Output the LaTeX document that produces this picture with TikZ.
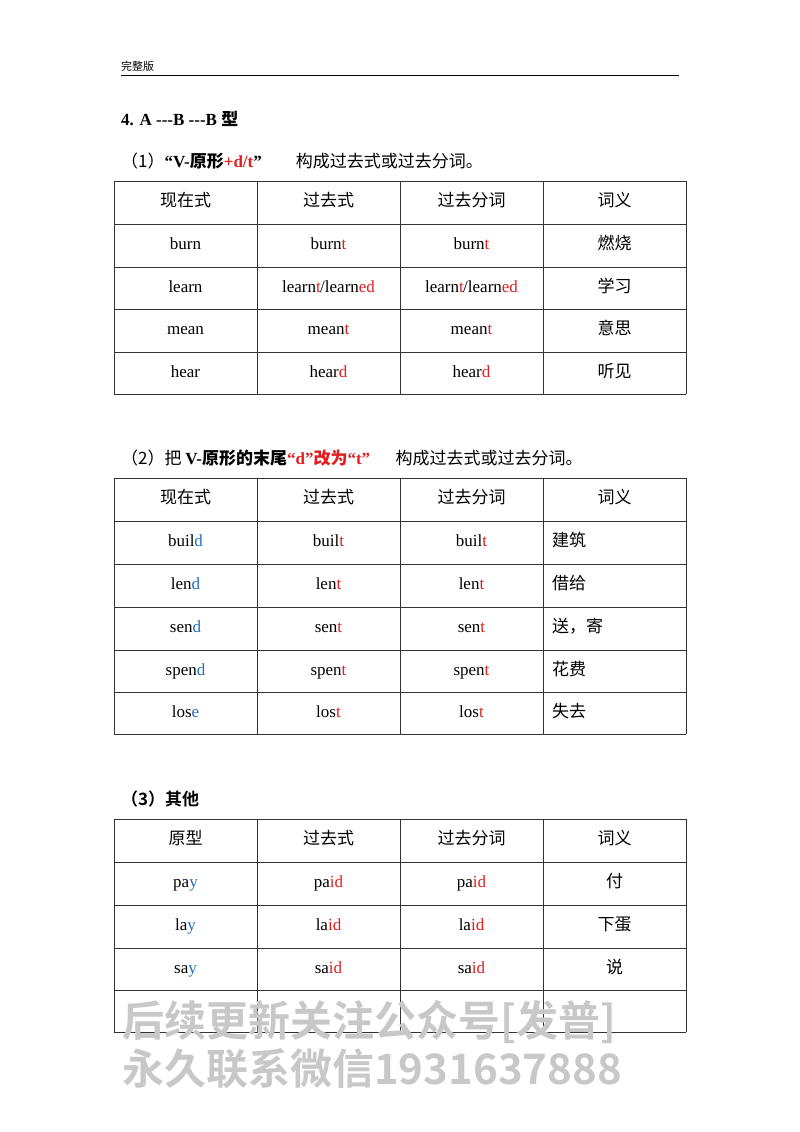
\documentclass[tikz,border=0pt]{standalone}
\usepackage{fontspec}
\setmainfont{Liberation Serif}
\newfontfamily\cjk{Noto Sans CJK SC}
\newfontfamily\cjkb{Noto Sans CJK SC Bold}
\definecolor{rd}{RGB}{225,30,30}
\definecolor{bl}{RGB}{30,110,190}
\definecolor{wm}{RGB}{200,200,200}
\newcommand{\R}[1]{\textcolor{rd}{#1}}
\newcommand{\B}[1]{\textcolor{bl}{#1}}
\begin{document}
\begin{tikzpicture}[x=1pt,y=-1pt,
  tx/.style={font=\fontsize{17}{17}\selectfont,inner sep=0pt,text height=12pt,text depth=4pt},
  cn/.style={font=\fontsize{17}{17}\cjk,inner sep=0pt,text height=12pt,text depth=4pt},
  grid/.style={line width=0.9pt,black!80}]
\useasboundingbox[fill=white] (0,0) rectangle (800,1132);
\node[anchor=west,inner sep=0pt,font=\fontsize{11}{11}\cjk] (hdr) at (121,66) {完整版};
\draw[line width=1pt] (121,75) -- (679,75);
\node[anchor=west,inner sep=0pt,font=\fontsize{17}{17}\bfseries] (t4) at (121,119) {4. A {-}{-}{-}B {-}{-}{-}B {\cjkb 型}};
\node[anchor=west,inner sep=0pt,font=\fontsize{17}{17}\selectfont] (s1) at (121,161) {{\cjk （1）}\textbf{“V-{\cjkb 原形}\R{+d/t}”}\hspace{2em}{\cjk 构成过去式或过去分词。}};
\node[anchor=west,inner sep=0pt,font=\fontsize{17}{17}\selectfont] (s2) at (121,458) {{\cjk （2）把 }\textbf{V-{\cjkb 原形的末尾}\R{“d”{\cjkb 改为}“t”}}\hspace{1.5em}{\cjk 构成过去式或过去分词。}};
\node[anchor=west,inner sep=0pt,font=\fontsize{17}{17}\cjkb] (s3) at (121,799) {（3）其他};
% tables
\foreach \ys in {{181,224,267,309,352,394},{478,521,564,607,650,692,734},{819,862,905,948,990,1032}}{
  \foreach \y in \ys {\draw[grid] (114,\y) -- (686,\y);}
}
\foreach \x in {114,257,400,543,686}{
  \draw[grid] (\x,181) -- (\x,394);
  \draw[grid] (\x,478) -- (\x,734);
  \draw[grid] (\x,819) -- (\x,1032);
}
% table 1
\foreach \a/\b/\c/\d/\y in {{\cjk 现在式}/{\cjk 过去式}/{\cjk 过去分词}/{\cjk 词义}/202,
 burn/burn\R{t}/burn\R{t}/{\cjk 燃烧}/245,
 learn/{learn\R{t}/learn\R{ed}}/{learn\R{t}/learn\R{ed}}/{\cjk 学习}/288,
 mean/mean\R{t}/mean\R{t}/{\cjk 意思}/330,
 hear/hear\R{d}/hear\R{d}/{\cjk 听见}/373}{
 \node[tx] (a\y) at (185.5,\y) {\a};
 \node[tx] (d\y) at (614.5,\y) {\d};
}
\foreach \b/\y in {{\cjk 过去式}/202, burn\R{t}/245, mean\R{t}/330, hear\R{d}/373}{
 \node[tx] (b\y) at (328.5,\y) {\b};
}
\foreach \c/\y in {{\cjk 过去分词}/202, burn\R{t}/245, mean\R{t}/330, hear\R{d}/373}{
 \node[tx] (c\y) at (471.5,\y) {\c};
}
\node[tx] (b288) at (328.5,288) {learn\R{t}\kern-0.5pt/learn\R{ed}};
\node[tx] (c288) at (471.5,288) {learn\R{t}\kern-0.5pt/learn\R{ed}};
% table 2
\node[cn] (h2a) at (185.5,499) {现在式};
\node[cn] (h2b) at (328.5,499) {过去式};
\node[cn] (h2c) at (471.5,499) {过去分词};
\node[cn] (h2d) at (614.5,499) {词义};
\foreach \a/\b/\d/\y in {buil\B{d}/buil\R{t}/建筑/542,
 len\B{d}/len\R{t}/借给/585,
 sen\B{d}/sen\R{t}/送，寄/628,
 spen\B{d}/spen\R{t}/花费/671,
 los\B{e}/los\R{t}/失去/713}{
 \node[tx] (e\y) at (185.5,\y) {\a};
 \node[tx] (f\y) at (328.5,\y) {\b};
 \node[tx] (g\y) at (471.5,\y) {\b};
 \node[cn,anchor=west] (h\y) at (552,\y) {\d};
}
% table 3
\foreach \a/\b/\d/\y in {{\cjk 原型}/{\cjk 过去式}/{\cjk 词义}/840,
 pa\B{y}/pa\R{id}/{\cjk 付}/883,
 la\B{y}/la\R{id}/{\cjk 下蛋}/926,
 sa\B{y}/sa\R{id}/{\cjk 说}/969}{
 \node[tx] (i\y) at (185.5,\y) {\a};
 \node[tx] (j\y) at (328.5,\y) {\b};
 \node[tx] (l\y) at (614.5,\y) {\d};
}
\node[cn] (k840) at (471.5,840) {过去分词};
\node[tx] (k883) at (471.5,883) {pa\R{id}};
\node[tx] (k926) at (471.5,926) {la\R{id}};
\node[tx] (k969) at (471.5,969) {sa\R{id}};
% watermark
\node[anchor=west,inner sep=0pt,text=wm,font=\fontsize{42}{42}\cjkb] (wm1) at (122,1022) {后续更新关注公众号[发普]};
\node[anchor=west,inner sep=0pt,text=wm,font=\fontsize{42}{42}\cjkb] (wm2) at (122,1069) {永久联系微信1931637888};
\end{tikzpicture}
\end{document}
